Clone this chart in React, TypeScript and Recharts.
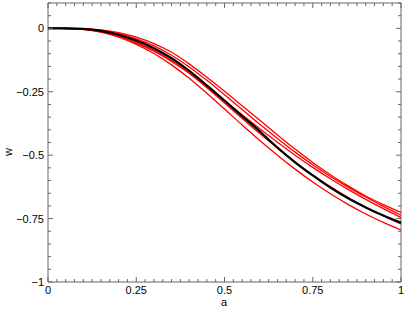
import React from 'react';
import {
  LineChart,
  Line,
  XAxis,
  YAxis,
  ReferenceArea,
} from 'recharts';

// a positions where the curves were read
const aValues = [0, 0.05, 0.1, 0.15, 0.2, 0.25, 0.3, 0.35, 0.4, 0.45, 0.5, 0.55, 0.6, 0.65, 0.7, 0.75, 0.8, 0.85, 0.9, 0.95, 1];

// reference curve (black)
const wBlack = [0, 0, -0.002, -0.01, -0.025, -0.048, -0.078, -0.118, -0.168, -0.225, -0.285, -0.346, -0.406, -0.47, -0.528, -0.58, -0.628, -0.67, -0.706, -0.738, -0.766];

// red curves
const wRed1 = [0, 0, -0.001, -0.006, -0.017, -0.035, -0.06, -0.094, -0.14, -0.193, -0.248, -0.305, -0.362, -0.42, -0.476, -0.529, -0.577, -0.621, -0.661, -0.695, -0.726];
const wRed2 = [0, 0, -0.002, -0.008, -0.021, -0.041, -0.069, -0.106, -0.152, -0.205, -0.262, -0.32, -0.378, -0.434, -0.488, -0.538, -0.584, -0.626, -0.665, -0.702, -0.737];
const wRed3 = [0, -0.0005, -0.004, -0.014, -0.032, -0.058, -0.09, -0.13, -0.177, -0.23, -0.285, -0.341, -0.396, -0.449, -0.5, -0.548, -0.593, -0.635, -0.674, -0.711, -0.746];
const wRed4 = [0, 0, -0.003, -0.012, -0.029, -0.054, -0.086, -0.127, -0.177, -0.234, -0.294, -0.355, -0.415, -0.472, -0.527, -0.578, -0.624, -0.667, -0.705, -0.739, -0.771];
const wRed5 = [0, -0.0005, -0.004, -0.015, -0.035, -0.063, -0.099, -0.144, -0.197, -0.256, -0.318, -0.381, -0.442, -0.5, -0.555, -0.606, -0.652, -0.694, -0.732, -0.765, -0.795];

const redSeries = [wRed1, wRed2, wRed3, wRed4, wRed5];

const xMajor = [0, 0.25, 0.5, 0.75, 1];
const xLabels = ['0', '0.25', '0.5', '0.75', '1'];
const yMajor = [-1, -0.75, -0.5, -0.25, 0];
const yLabels = ['\u22121', '\u22120.75', '\u22120.5', '\u22120.25', '0'];

const data = aValues.map((a, i) => {
  const row: Record<string, number> = { a, black: wBlack[i] };
  redSeries.forEach((s, k) => {
    row[`red${k}`] = s[i];
  });
  return row;
});

const xTicks: number[] = [];
for (let i = 0; i <= 40; i++) xTicks.push(Math.round(i * 25) / 1000);
const yTicks: number[] = [];
for (let i = 0; i <= 22; i++) yTicks.push(Math.round(-1000 + i * 50) / 1000);

const LEFT = 48;
const RIGHT = 401;
const TOP = 3;
const BOTTOM = 282;
const AXIS = '#666';
const FONT = '"Liberation Sans", Arial, sans-serif';

const near = (v: number, list: number[]) => list.findIndex((m) => Math.abs(m - v) < 1e-6);

const XTick = (props: any) => {
  const { x, payload } = props;
  const idx = near(payload.value, xMajor);
  const len = idx >= 0 ? 5 : 3;
  return (
    <g>
      <line x1={x} x2={x} y1={BOTTOM} y2={BOTTOM - len} stroke={AXIS} />
      <line x1={x} x2={x} y1={TOP} y2={TOP + len} stroke={AXIS} />
      {idx >= 0 && (
        <text x={x} y={294} textAnchor="middle" fontSize={11} fontFamily={FONT} fill="#000">
          {xLabels[idx]}
        </text>
      )}
    </g>
  );
};

const YTick = (props: any) => {
  const { y, payload } = props;
  const idx = near(payload.value, yMajor);
  const len = idx >= 0 ? 5 : 3;
  return (
    <g>
      <line x1={LEFT} x2={LEFT + len} y1={y} y2={y} stroke={AXIS} />
      <line x1={RIGHT - len} x2={RIGHT} y1={y} y2={y} stroke={AXIS} />
      {idx >= 0 && (
        <text x={44} y={y} dy={4} textAnchor="end" fontSize={11} fontFamily={FONT} fill="#000">
          {yLabels[idx]}
        </text>
      )}
    </g>
  );
};

const XLabel = () => (
  <text x={224} y={306} textAnchor="middle" fontSize={11} fontFamily={FONT} fill="#000">
    a
  </text>
);

const YLabel = () => (
  <text
    x={12}
    y={152}
    textAnchor="middle"
    fontSize={11}
    fontFamily={FONT}
    fill="#000"
    transform="rotate(-90 12 152)"
  >
    w
  </text>
);

export default function App() {
  return (
    <div style={{ position: 'absolute', left: 0, top: 0, background: '#fff' }}>
      <LineChart
        width={409}
        height={311}
        data={data}
        margin={{ top: TOP, right: 409 - RIGHT, left: 0, bottom: 0 }}
      >
        <XAxis
          dataKey="a"
          type="number"
          domain={[0, 1]}
          ticks={xTicks}
          interval={0}
          tick={<XTick />}
          tickLine={false}
          axisLine={false}
          height={311 - BOTTOM}
          label={<XLabel />}
        />
        <YAxis
          type="number"
          domain={[-1, 0.1]}
          ticks={yTicks}
          interval={0}
          tick={<YTick />}
          tickLine={false}
          axisLine={false}
          width={LEFT}
          label={<YLabel />}
        />
        <ReferenceArea x1={0} x2={1} y1={-1} y2={0.1} fill="none" stroke={AXIS} strokeWidth={1} />
        {redSeries.map((_, k) => (
          <Line
            key={k}
            dataKey={`red${k}`}
            type="monotone"
            stroke="#ff0000"
            strokeWidth={1.3}
            dot={false}
            isAnimationActive={false}
          />
        ))}
        <Line
          dataKey="black"
          type="monotone"
          stroke="#000"
          strokeWidth={2.2}
          dot={false}
          isAnimationActive={false}
        />
      </LineChart>
    </div>
  );
}
